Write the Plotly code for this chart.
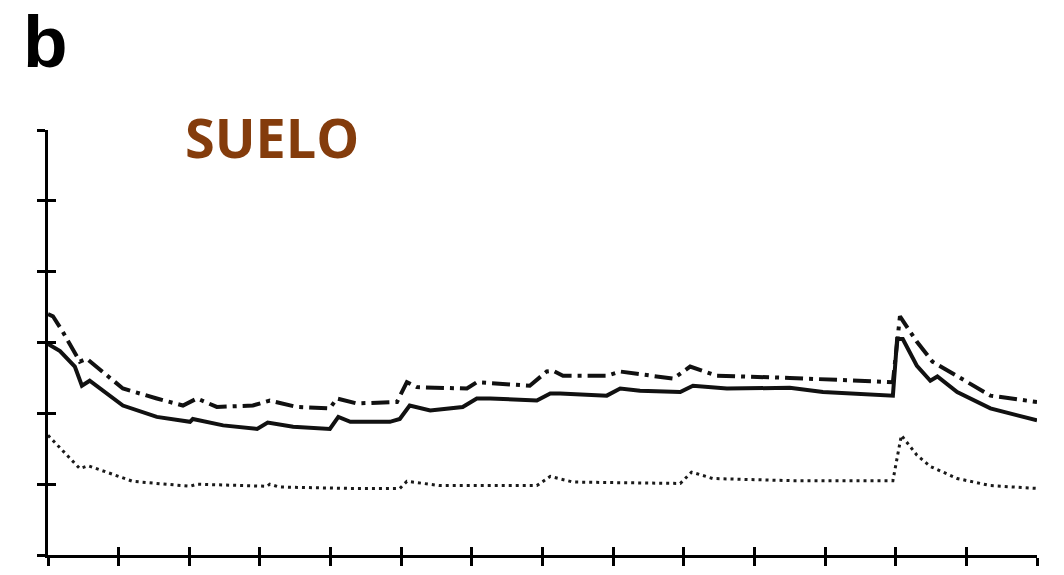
import plotly.graph_objects as go

# Solid series
solid_x = [0, 0.17, 0.38, 0.48, 0.59, 1.06, 1.54, 2.01, 2.05, 2.48, 2.96, 3.11, 3.47, 3.99, 4.11, 4.28,
           4.84, 4.98, 5.12, 5.41, 5.87, 6.07, 6.26, 6.92, 7.11, 7.25, 7.91, 8.10, 8.38, 8.95, 9.13,
           9.61, 10.50, 10.97, 11.96, 12.02, 12.10, 12.30, 12.49, 12.59, 12.87, 13.34, 14.0]
solid_y = [2.98, 2.88, 2.66, 2.39, 2.46, 2.11, 1.95, 1.88, 1.92, 1.83, 1.78, 1.87, 1.81, 1.78, 1.95, 1.88,
           1.88, 1.92, 2.11, 2.04, 2.09, 2.21, 2.21, 2.18, 2.28, 2.28, 2.25, 2.35, 2.32, 2.30, 2.39,
           2.35, 2.36, 2.30, 2.25, 3.05, 3.05, 2.67, 2.46, 2.52, 2.30, 2.07, 1.90]

# Dash-dot series
dashdot_x = [0, 0.07, 0.21, 0.45, 0.55, 1.06, 1.54, 1.91, 2.11, 2.39, 2.90, 3.14, 3.52, 3.99, 4.09, 4.37,
             4.94, 5.08, 5.22, 5.93, 6.07, 6.82, 7.06, 7.15, 7.29, 7.91, 8.10, 8.85, 9.09, 9.47, 10.50,
             11.96, 12.06, 12.30, 12.52, 12.87, 13.34, 14.0]
dashdot_y = [3.40, 3.37, 3.15, 2.73, 2.77, 2.35, 2.21, 2.11, 2.21, 2.09, 2.11, 2.18, 2.09, 2.07, 2.21, 2.14,
             2.16, 2.44, 2.37, 2.35, 2.44, 2.39, 2.59, 2.60, 2.53, 2.53, 2.59, 2.49, 2.66, 2.53, 2.50,
             2.44, 3.37, 3.01, 2.73, 2.53, 2.25, 2.16]

# Dotted series
dotted_x = [0, 0.45, 0.57, 1.20, 2.01, 2.11, 3.10, 3.14, 3.27, 4.27, 4.98, 5.08, 5.55, 6.92, 7.11, 7.43,
            8.95, 9.11, 9.41, 10.50, 11.96, 12.08, 12.30, 12.49, 12.87, 13.34, 14.0]
dotted_y = [1.69, 1.22, 1.26, 1.04, 0.97, 1.00, 0.97, 1.00, 0.96, 0.94, 0.94, 1.04, 0.98, 0.98, 1.11, 1.03,
            1.01, 1.17, 1.08, 1.05, 1.05, 1.69, 1.41, 1.25, 1.08, 0.98, 0.94]

x_ticks = list(range(0, 15))
y_ticks = list(range(0, 7))

fig = go.Figure()
fig.add_trace(go.Scatter(x=dotted_x, y=dotted_y, mode="lines",
                         line=dict(color="#1a1a1a", width=3, dash="3px,4px"), showlegend=False))
fig.add_trace(go.Scatter(x=dashdot_x, y=dashdot_y, mode="lines",
                         line=dict(color="#111111", width=4, dash="18px,6px,4px,6px"), showlegend=False))
fig.add_trace(go.Scatter(x=solid_x, y=solid_y, mode="lines",
                         line=dict(color="#111111", width=4), showlegend=False))
# invisible trace on second axes for inside ticks
fig.add_trace(go.Scatter(x=[0], y=[0], mode="markers", marker=dict(opacity=0),
                         xaxis="x2", yaxis="y2", showlegend=False, hoverinfo="skip"))

axis_common = dict(showgrid=False, zeroline=False, showticklabels=False,
                   tickcolor="black", tickwidth=2.5, ticklen=8)
fig.update_layout(
    width=1056, height=567,
    margin=dict(l=40, r=27, t=122, b=18),
    paper_bgcolor="white", plot_bgcolor="white",
    xaxis=dict(range=[0, 14], tickvals=x_ticks, ticks="outside", showline=True,
               linecolor="black", linewidth=3, **axis_common),
    yaxis=dict(range=[0, 6], tickvals=y_ticks, ticks="outside", showline=True,
               linecolor="black", linewidth=3, **axis_common),
    xaxis2=dict(range=[0, 14], tickvals=x_ticks, ticks="inside", overlaying="x",
                showline=False, **axis_common),
    yaxis2=dict(range=[0, 6], tickvals=y_ticks, ticks="inside", overlaying="y",
                showline=False, **axis_common),
    annotations=[
        dict(text="<b>SUELO</b>", xref="paper", yref="paper", x=0.1365, y=0.984,
             xanchor="left", yanchor="middle", showarrow=False,
             font=dict(family="Open Sans", size=54, color="#843C0C")),
        dict(text="<b>b</b>", xref="paper", yref="paper", x=-0.0275, y=1.208,
             xanchor="left", yanchor="middle", showarrow=False,
             font=dict(family="Liberation Sans", size=73, color="black")),
    ],
)
fig.write_html("out.html")
